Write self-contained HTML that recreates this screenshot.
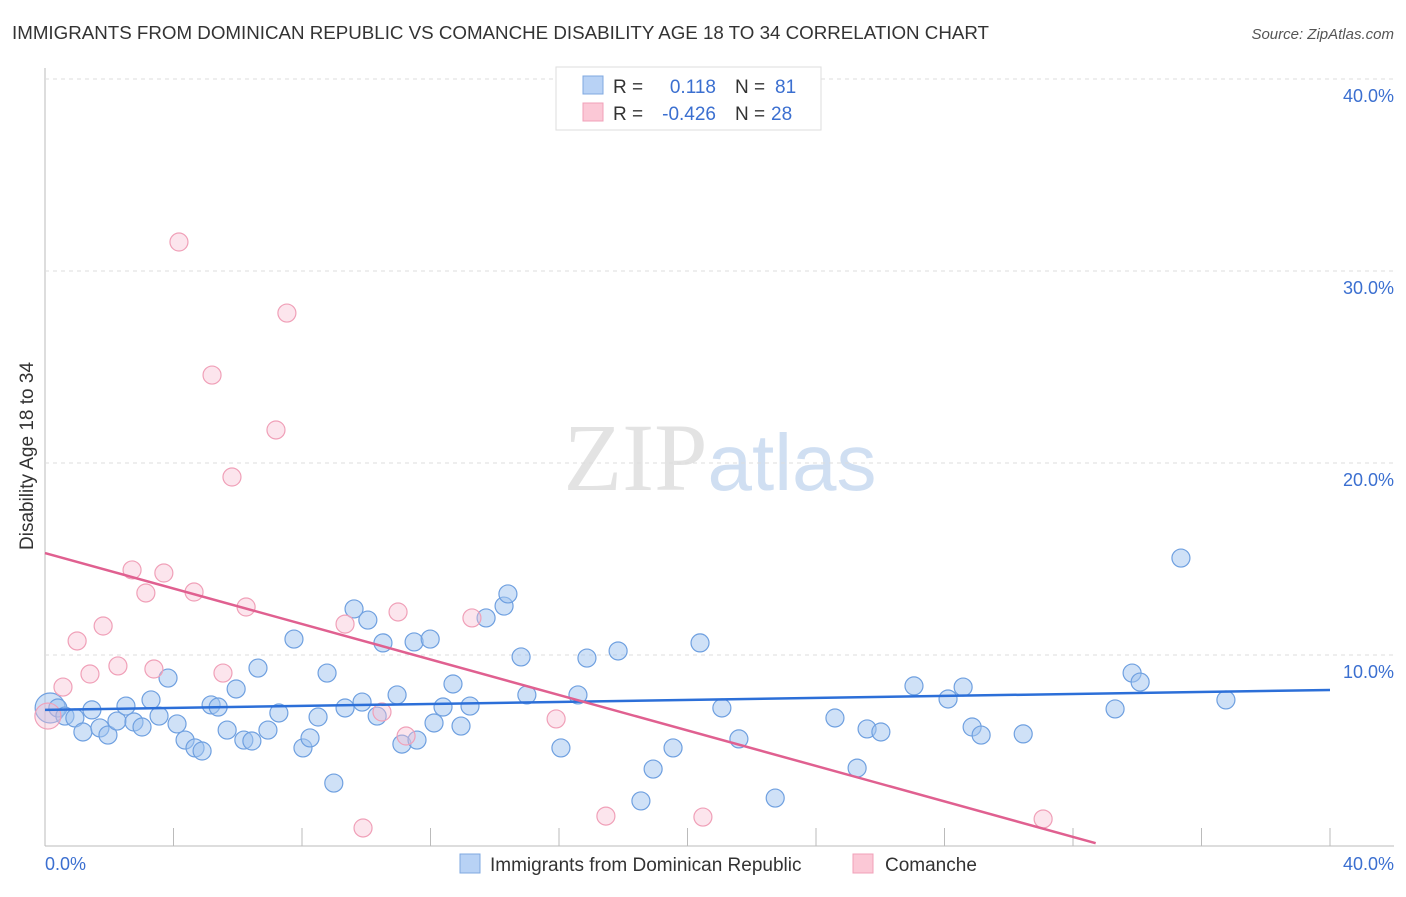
<!DOCTYPE html>
<html><head><meta charset="utf-8"><style>
body{margin:0;background:#fff;font-family:"Liberation Sans",sans-serif;}
</style></head><body>
<svg id="chart" width="1406" height="892" xmlns="http://www.w3.org/2000/svg" font-family="Liberation Sans, sans-serif">
<text x="12" y="39" font-size="18.7" fill="#333" textLength="977" lengthAdjust="spacingAndGlyphs">IMMIGRANTS FROM DOMINICAN REPUBLIC VS COMANCHE DISABILITY AGE 18 TO 34 CORRELATION CHART</text>
<text x="1394" y="39" font-size="15" fill="#555" font-style="italic" text-anchor="end">Source: ZipAtlas.com</text>
<text x="720" y="490" font-size="96" text-anchor="middle" font-family="Liberation Serif, serif" fill="#ddd" opacity="0.8">ZIP<tspan fill="#c5d8f0" font-family="Liberation Sans, sans-serif" font-size="80">atlas</tspan></text>
<text transform="translate(33,456) rotate(-90)" font-size="19" fill="#333" text-anchor="middle">Disability Age 18 to 34</text>
<g id="grid"></g><g id="pts"></g><g id="lines"></g>
<g>
<rect x="556" y="67" width="265" height="63" fill="#fff" stroke="#ddd"/>
<rect x="583" y="76" width="20" height="18" fill="#b8d2f5" stroke="#7fa8e0"/>
<rect x="583" y="103" width="20" height="18" fill="#fbc8d6" stroke="#f0a0b8"/>
<text x="613" y="93" font-size="19" fill="#333">R =</text><text x="716" y="93" font-size="19" fill="#3b6fd0" text-anchor="end">0.118</text>
<text x="735" y="93" font-size="19" fill="#333">N =</text><text x="775" y="93" font-size="19" fill="#3b6fd0">81</text>
<text x="613" y="120" font-size="19" fill="#333">R =</text><text x="716" y="120" font-size="19" fill="#3b6fd0" text-anchor="end">-0.426</text>
<text x="735" y="120" font-size="19" fill="#333">N =</text><text x="771" y="120" font-size="19" fill="#3b6fd0">28</text>
</g>
<g>
<rect x="460" y="854" width="20" height="19" fill="#b8d2f5" stroke="#7fa8e0"/>
<text x="490" y="871" font-size="19" fill="#333">Immigrants from Dominican Republic</text>
<rect x="853" y="854" width="20" height="19" fill="#fbc8d6" stroke="#f0a0b8"/>
<text x="885" y="871" font-size="19" fill="#333">Comanche</text>
</g>
<text x="45" y="870" font-size="18" fill="#3b6fd0">0.0%</text>
<text x="1394" y="870" font-size="18" fill="#3b6fd0" text-anchor="end">40.0%</text>
</svg>
<script>
const blueX=[0.16,0.40,0.62,0.93,1.18,1.46,1.71,1.96,2.24,2.52,2.77,3.02,3.30,3.55,3.83,4.11,4.36,4.67,4.89,5.17,5.39,5.67,5.95,6.19,6.44,6.63,6.94,7.28,7.75,8.03,8.25,8.50,8.78,8.99,9.34,9.62,9.87,10.05,10.34,10.52,10.96,11.11,11.49,11.58,11.99,12.11,12.39,12.70,12.95,13.23,13.73,14.29,14.41,14.82,15.00,16.06,16.59,16.87,17.84,18.55,18.93,19.55,20.39,21.07,21.60,22.73,24.59,25.28,25.59,26.02,27.05,28.11,28.58,28.86,29.14,30.45,33.31,33.84,34.09,35.36,36.76];
const blueY=[7.24,7.24,6.82,6.72,5.99,7.14,6.20,5.83,6.56,7.34,6.51,6.25,7.66,6.82,8.80,6.41,5.57,5.16,5.00,7.40,7.29,6.09,8.23,5.57,5.52,9.32,6.09,6.98,10.83,5.16,5.68,6.77,9.06,3.33,7.24,12.40,7.55,11.82,6.82,10.63,7.92,5.36,10.68,5.57,10.83,6.46,7.29,8.49,6.30,7.34,11.93,12.55,13.18,9.90,7.92,5.16,7.92,9.84,10.21,2.40,4.06,5.16,10.63,7.24,5.63,2.55,6.72,4.11,6.15,5.99,8.39,7.71,8.33,6.25,5.83,5.89,7.19,9.06,8.59,15.05,7.66];
const pinkX=[0.09,0.56,1.00,1.40,1.81,2.27,2.71,3.14,3.39,3.70,4.17,4.64,5.20,5.54,5.82,6.26,7.19,7.53,9.34,9.90,10.49,10.99,11.24,13.29,15.91,17.46,20.48,31.07];
const pinkY=[6.82,8.33,10.73,9.01,11.51,9.43,14.43,13.23,9.27,14.27,31.51,13.28,24.58,9.06,19.27,12.50,21.72,27.81,11.61,0.99,7.03,12.24,5.78,11.93,6.67,1.61,1.56,1.46];
const blueTrend=[7.14,8.18];
const pinkTrend=[15.31,-0.462];
const yTicks=[10,20,30,40];
const yTickLabels=["10.0%","20.0%","30.0%","40.0%"];
const xTicks=[4,8,12,16,20,24,28,32,36,40];
const NS="http://www.w3.org/2000/svg";
const sx=v=>45+v/40*1285, sy=v=>847-v*19.2;
function mk(tag,attrs,parent){const e=document.createElementNS(NS,tag);for(const k in attrs)e.setAttribute(k,attrs[k]);parent.appendChild(e);return e;}
const grid=document.getElementById('grid'),pts=document.getElementById('pts'),lines=document.getElementById('lines');
let ax=mk('line',{x1:45,y1:68,x2:45,y2:846,stroke:'#bbb'},grid);


ax=mk('line',{x1:45,y1:846,x2:1394,y2:846,stroke:'#bbb'},grid);


yTicks.forEach((t,i)=>{
 const g=mk('line',{x1:45,y1:sy(t),x2:1394,y2:sy(t),stroke:'#ddd','stroke-dasharray':'4,4'},grid);
 
 
 const tx=mk('text',{x:1394,y:sy(t)+23,'font-size':18,fill:'#3b6fd0','text-anchor':'end'},grid);
 tx.textContent=yTickLabels[i];
 
 
});
xTicks.forEach(t=>{
 const k=mk('line',{x1:sx(t),y1:828,x2:sx(t),y2:846,stroke:'#bbb'},grid);
 
 
});
blueX.forEach((v,i)=>{
 const c=mk('circle',{cx:sx(v),cy:sy(blueY[i]),r:i==0?15:9,fill:'rgba(160,196,240,0.5)',stroke:'#6fa0e0','stroke-width':1.2},pts);
 
 
});
pinkX.forEach((v,i)=>{
 const c=mk('circle',{cx:sx(v),cy:sy(pinkY[i]),r:i==0?13:9,fill:'rgba(248,190,210,0.4)',stroke:'#f0a0b8','stroke-width':1.2},pts);
 
 
});
let l=mk('line',{x1:sx(0),y1:sy(blueTrend[0]),x2:sx(40),y2:sy(blueTrend[1]),stroke:'#2c6fd8','stroke-width':2.5},lines);


const xEnd=(pinkTrend[0]-0.2)/-pinkTrend[1];
l=mk('line',{x1:sx(0),y1:sy(pinkTrend[0]),x2:sx(xEnd),y2:sy(pinkTrend[0]+pinkTrend[1]*xEnd),stroke:'#e06090','stroke-width':2.5},lines);


</script>
</body></html>
